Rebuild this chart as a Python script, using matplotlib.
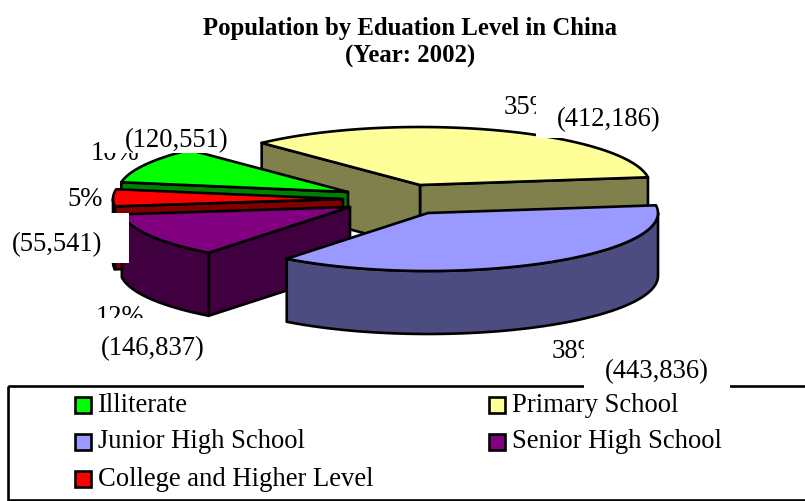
import numpy as np
from matplotlib import pyplot as plt
from matplotlib.patches import Polygon, Rectangle

# data
categories = ["Illiterate", "Primary School", "Junior High School", "Senior High School", "College and Higher Level"]
values = [120551, 412186, 443836, 146837, 55541]

# legend is laid out row by row, same order as categories
top_colors = ["#00FF00", "#FFFF99", "#9999FF", "#800080", "#FF0000"]
side_colors = ["#008000", "#80804C", "#4C4C80", "#400040", "#800000"]

# where each exploded slice has its tip, in image pixels
tips = [(348, 192), (420, 185), (428, 213), (350, 207), (343, 199)]
# where the slice labels go: percent text, then value text
pct_pos = [(115, 153), (528, 107), (576, 352), (120, 318), (85, 199)]
val_pos = [(177, 141), (609, 120), (657, 372), (153, 349), (57, 245)]
# white boxes behind the value labels
boxes = [(103, 122, 130, 31), (536, 90, 140, 48), (584, 335, 146, 53), (80, 318, 155, 40), (0, 213, 129, 50)]

RX, RY, DEPTH = 230, 58, 63
START = 133.5  # angle of the first cut of Primary School, going clockwise
FONT = "Liberation Serif"
LW = 1.9


def rim(tip, t):
    t = np.radians(t)
    return np.column_stack([tip[0] + RX * np.cos(t), tip[1] - RY * np.sin(t)])


def face(ax, pts, color, z):
    ax.add_patch(Polygon(pts, closed=True, facecolor=color, edgecolor="black", lw=LW, joinstyle="round", zorder=z))


def cut_face(ax, tip, a, color, z):
    # flat face between the rim and the middle of the pie
    p = rim(tip, np.array([a]))[0]
    pts = [p, tip, (tip[0], tip[1] + DEPTH), (p[0], p[1] + DEPTH)]
    face(ax, pts, color, z)


def wall(ax, tip, a0, a1, color, z):
    # outer wall, only the part facing the viewer
    a0, a1 = min(a0, 0), max(a1, -180)
    if a0 <= a1:
        return
    arc = rim(tip, np.linspace(a0, a1, 60))
    face(ax, np.vstack([arc, arc[::-1] + [0, DEPTH]]), color, z)


fig = plt.figure(figsize=(8.05, 5.01), dpi=100)
ax = fig.add_axes([0, 0, 1, 1])
ax.set_xlim(0, 805)
ax.set_ylim(501, 0)
ax.axis("off")

# slice angles from the values, starting at Primary School
total = sum(values)
spans = [v / total * 360 for v in values]
angles = {}
a = START
for i in [1, 2, 3, 4, 0]:
    angles[i] = (a, a - spans[i])
    a -= spans[i]

# painter's order, back to front
for z, i in enumerate([1, 0, 4, 3, 2]):
    a0, a1 = angles[i]
    tip = tips[i]
    zz = z * 10 + 1
    if i == 1:
        # primary school shows both of its cuts
        cut_face(ax, tip, a1, side_colors[i], zz)
    if i != 2:
        cut_face(ax, tip, a0, side_colors[i], zz)
    wall(ax, tip, a0, a1, side_colors[i], zz + 1)
    arc = rim(tip, np.linspace(a0, a1, 120))
    face(ax, np.vstack([[tip], arc]), top_colors[i], zz + 2)

# legend frame runs off the right side of the picture
ax.add_patch(Rectangle((8, 386), 810, 114, facecolor="none", edgecolor="black", lw=LW, zorder=60))
col_x = [75, 489]
row_y = [405, 442, 479]
for n, name in enumerate(categories):
    x = col_x[n % 2]
    y = row_y[n // 2]
    ax.add_patch(Rectangle((x, y - 8), 16, 16, facecolor=top_colors[n], edgecolor="black", lw=LW, zorder=61))
    ax.text(x + 23, y, name, family=FONT, fontsize=19.2, va="center", ha="left", zorder=61)

# labels: the white boxes of the value labels hide part of the percent labels
for i, v in enumerate(values):
    ax.text(*pct_pos[i], f"{v / total * 100:.0f}%", family=FONT, fontsize=19.2, ha="center", va="center", zorder=70)
    ax.add_patch(Rectangle(boxes[i][:2], boxes[i][2], boxes[i][3], facecolor="white", edgecolor="none", zorder=71))
    ax.text(*val_pos[i], f"({v:,})", family=FONT, fontsize=19.2, ha="center", va="center", zorder=72)

ax.text(410, 28, "Population by Eduation Level in China", family=FONT, fontsize=17.8,
        fontweight="bold", ha="center", va="center")
ax.text(410, 56, "(Year: 2002)", family=FONT, fontsize=17.8, fontweight="bold", ha="center", va="center")

fig.savefig("out.png", dpi=100)
